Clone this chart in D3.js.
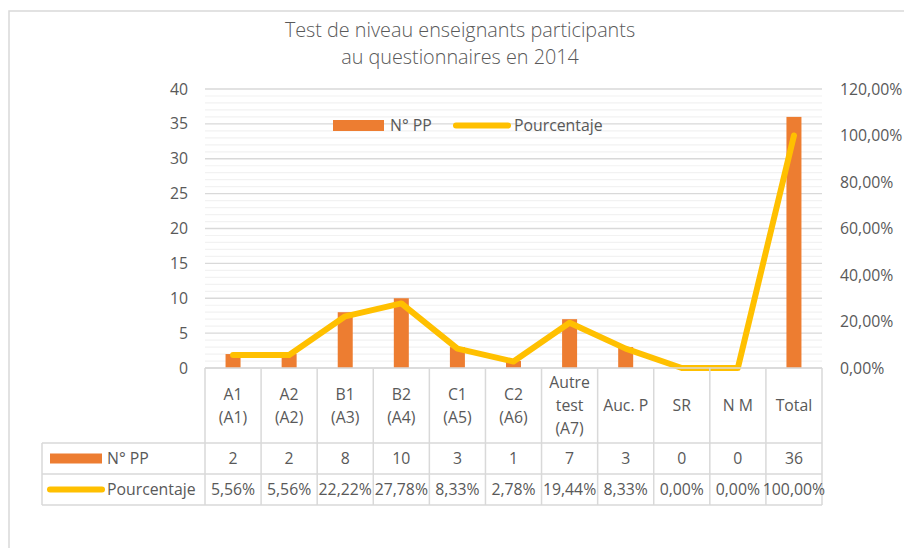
<!DOCTYPE html>
<html>
<head>
<meta charset="utf-8">
<script src="https://cdn.jsdelivr.net/npm/d3@7"></script>
<style>
body { margin:0; background:#fff; }
svg text { font-family:"Open Sans", "Noto Sans", sans-serif; fill:#595959; }
</style>
</head>
<body>
<svg width="904" height="548"></svg>
<script>
// chart data
var categories = ["A1\n(A1)", "A2\n(A2)", "B1\n(A3)", "B2\n(A4)", "C1\n(A5)", "C2\n(A6)", "Autre\ntest\n(A7)", "Auc. P", "SR", "N M", "Total"]
var counts = [2, 2, 8, 10, 3, 1, 7, 3, 0, 0, 36]
var percents = [5.56, 5.56, 22.22, 27.78, 8.33, 2.78, 19.44, 8.33, 0, 0, 100]
var countTicks = [0, 5, 10, 15, 20, 25, 30, 35, 40]
var percentTicks = [0, 20, 40, 60, 80, 100, 120]
var seriesNames = ["N° PP", "Pourcentaje"]
var titleLines = ["Test de niveau enseignants participants", "au questionnaires en 2014"]

var barColor = "#ED7D31"
var lineColor = "#FFC000"
var gridColor = "#d9d9d9"
var fontSize = "15.8px"

var plot = {left:205, right:822, top:89, bottom:368}
var rows = {head:443, one:474, two:505, legendLeft:42}

var fmtPct = function(v)
{
    return v.toFixed(2).replace(".", ",") + "%"
}

var svg = d3.select("svg")

// outer chart frame
svg.append("rect")
    .attr("x", 9).attr("y", 11)
    .attr("width", 920).attr("height", 560)
    .attr("fill", "none")
    .attr("stroke", gridColor)
    .attr("stroke-width", 1.5)

// title
svg.append("g").selectAll("text")
    .data(titleLines)
    .enter()
    .append("text")
    .attr("x", 460)
    .attr("y", function(d, i){ return 37 + i*27 })
    .attr("text-anchor", "middle")
    .style("font-size", "19.8px")
    .style("font-weight", 300)
    .text(function(d){ return d })

var xScale = d3.scaleBand().domain(categories).range([plot.left, plot.right])
var yScale = d3.scaleLinear().domain([0, 40]).range([plot.bottom, plot.top])
var y2Scale = d3.scaleLinear().domain([0, 120]).range([plot.bottom, plot.top])

// minor gridlines (every 1) then major (every 5)
svg.append("g").selectAll("line")
    .data(d3.range(1, 40).filter(function(v){ return v % 5 != 0 }))
    .enter()
    .append("line")
    .attr("x1", plot.left).attr("x2", plot.right)
    .attr("y1", function(d){ return yScale(d) })
    .attr("y2", function(d){ return yScale(d) })
    .attr("stroke", "#f2f2f2")
    .attr("stroke-width", 1.2)

svg.append("g").selectAll("line")
    .data(countTicks)
    .enter()
    .append("line")
    .attr("x1", plot.left).attr("x2", plot.right)
    .attr("y1", function(d){ return yScale(d) })
    .attr("y2", function(d){ return yScale(d) })
    .attr("stroke", gridColor)
    .attr("stroke-width", 1.3)

// axes
var leftAxis = svg.append("g")
    .attr("transform", "translate(" + (plot.left - 10) + ",0)")
    .call(d3.axisLeft(yScale).tickValues(countTicks).tickSize(0).tickPadding(7))
leftAxis.select(".domain").remove()

var rightAxis = svg.append("g")
    .attr("transform", "translate(" + (plot.right + 11) + ",0)")
    .call(d3.axisRight(y2Scale).tickValues(percentTicks).tickSize(0).tickPadding(7).tickFormat(fmtPct))
rightAxis.select(".domain").remove()

svg.selectAll(".tick text")
    .style("font-size", fontSize)
    .attr("fill", "#595959")
    .style("font-family", "'Open Sans', sans-serif")

// bars
var barW = 15
svg.append("g").selectAll("rect")
    .data(counts)
    .enter()
    .append("rect")
    .attr("x", function(d, i){ return xScale(categories[i]) + xScale.bandwidth()/2 - barW/2 })
    .attr("y", function(d){ return yScale(d) })
    .attr("width", barW)
    .attr("height", function(d){ return plot.bottom - yScale(d) })
    .attr("fill", barColor)

// line
var lineGenerator = d3.line()
    .x(function(d, i){ return xScale(categories[i]) + xScale.bandwidth()/2 })
    .y(function(d){ return y2Scale(d) })

svg.append("path")
    .datum(percents)
    .attr("d", lineGenerator)
    .attr("fill", "none")
    .attr("stroke", lineColor)
    .attr("stroke-width", 6)
    .attr("stroke-linecap", "round")
    .attr("stroke-linejoin", "round")

// legend inside plot
var legend = svg.append("g")
legend.append("rect")
    .attr("x", 333).attr("y", 120).attr("width", 51).attr("height", 11)
    .attr("fill", barColor)
legend.append("text")
    .attr("x", 390).attr("y", 131)
    .style("font-size", fontSize)
    .text(seriesNames[0])
legend.append("line")
    .attr("x1", 456).attr("x2", 508).attr("y1", 125.5).attr("y2", 125.5)
    .attr("stroke", lineColor).attr("stroke-width", 6).attr("stroke-linecap", "round")
legend.append("text")
    .attr("x", 514).attr("y", 131)
    .style("font-size", fontSize)
    .text(seriesNames[1])

// data table
var table = svg.append("g")
var hLines = [
    {y:plot.bottom, x1:plot.left},
    {y:rows.head, x1:rows.legendLeft},
    {y:rows.one, x1:rows.legendLeft},
    {y:rows.two, x1:rows.legendLeft}
]
table.selectAll(".hl")
    .data(hLines)
    .enter()
    .append("line")
    .attr("x1", function(d){ return d.x1 }).attr("x2", plot.right)
    .attr("y1", function(d){ return d.y }).attr("y2", function(d){ return d.y })
    .attr("stroke", gridColor).attr("stroke-width", 1.5)

var edges = categories.map(function(c){ return xScale(c) }).concat([plot.right])
table.selectAll(".vl")
    .data(edges)
    .enter()
    .append("line")
    .attr("x1", function(d){ return d }).attr("x2", function(d){ return d })
    .attr("y1", plot.bottom).attr("y2", rows.two)
    .attr("stroke", gridColor).attr("stroke-width", 1.5)

table.append("line")
    .attr("x1", rows.legendLeft).attr("x2", rows.legendLeft)
    .attr("y1", rows.head).attr("y2", rows.two)
    .attr("stroke", gridColor).attr("stroke-width", 1.5)

// category header labels
var headMid = (plot.bottom + rows.head)/2
categories.forEach(function(c)
{
    var parts = c.split("\n")
    var t = table.append("text")
        .attr("text-anchor", "middle")
        .style("font-size", fontSize)
    parts.forEach(function(p, j)
    {
        t.append("tspan")
            .attr("x", xScale(c) + xScale.bandwidth()/2)
            .attr("y", headMid + 5.5 + (j - (parts.length - 1)/2)*23)
            .text(p)
    })
})

// row values
var rowMid1 = (rows.head + rows.one)/2 + 5.5
var rowMid2 = (rows.one + rows.two)/2 + 5.5
table.append("g").selectAll("text")
    .data(counts)
    .enter()
    .append("text")
    .attr("x", function(d, i){ return xScale(categories[i]) + xScale.bandwidth()/2 })
    .attr("y", rowMid1)
    .attr("text-anchor", "middle")
    .style("font-size", fontSize)
    .text(function(d){ return d })
table.append("g").selectAll("text")
    .data(percents)
    .enter()
    .append("text")
    .attr("x", function(d, i){ return xScale(categories[i]) + xScale.bandwidth()/2 })
    .attr("y", rowMid2)
    .attr("text-anchor", "middle")
    .style("font-size", fontSize)
    .text(function(d){ return fmtPct(d) })

// row legend keys
table.append("rect")
    .attr("x", 50).attr("y", (rows.head + rows.one)/2 - 5).attr("width", 52).attr("height", 10)
    .attr("fill", barColor)
table.append("text")
    .attr("x", 107).attr("y", rowMid1)
    .style("font-size", fontSize)
    .text(seriesNames[0])
table.append("line")
    .attr("x1", 50).attr("x2", 102)
    .attr("y1", (rows.one + rows.two)/2).attr("y2", (rows.one + rows.two)/2)
    .attr("stroke", lineColor).attr("stroke-width", 6).attr("stroke-linecap", "round")
table.append("text")
    .attr("x", 107).attr("y", rowMid2)
    .style("font-size", fontSize)
    .text(seriesNames[1])
</script>
</body>
</html>
